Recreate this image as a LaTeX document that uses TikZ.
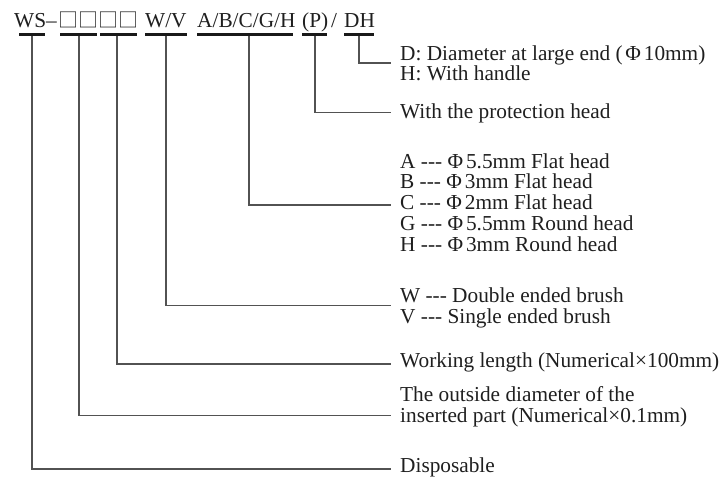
\documentclass[tikz,border=0pt]{standalone}
\usepackage{fontspec}
\setmainfont{Liberation Serif}
\newfontfamily\cjk{Noto Sans CJK SC}
\newcommand\phiD{Φ\kern3pt}
\newcommand\dsh{-{}-{}-}
\begin{document}
\begin{tikzpicture}[x=1pt,y=-1pt,
  txt/.style={anchor=base west, inner sep=0pt, font=\fontsize{21.3pt}{21pt}\selectfont, text=black!88},
  boxtxt/.style={anchor=base west, inner sep=0pt, font=\fontsize{20pt}{20pt}\selectfont\cjk, text=black!85},
  bar/.style={fill=black!90, inner sep=0pt, minimum height=2.6pt},
  conn/.style={draw=black!68, line width=1.1pt}]
\useasboundingbox (0,0) rectangle (723,477);
% top code
\node[txt] (tWS) at (14,27) {WS–};
\node[boxtxt] (tBox) at (58,27) {□□□□};
\node[txt] (tWV) at (145,27) {W/V};
\node[txt] (tABC) at (197,27) {A/B/C/G/H};
\node[txt] (tP) at (302,27) {(P)};
\node[txt] (tSl) at (331,27) {/};
\node[txt] (tDH) at (344,27) {DH};
% bars
\node[bar, minimum width=26pt] (bWS) at (32,34.5) {};
\node[bar, minimum width=37pt] (bB1) at (78.5,34.5) {};
\node[bar, minimum width=37pt] (bB2) at (118.5,34.5) {};
\node[bar, minimum width=42pt] (bWV) at (166,34.5) {};
\node[bar, minimum width=96pt] (bABC) at (245,34.5) {};
\node[bar, minimum width=25pt] (bP) at (314.5,34.5) {};
\node[bar, minimum width=30pt] (bDH) at (359,34.5) {};
% descriptions
\node[txt] (dD) at (400,60.5) {D: Diameter at large end (\kern2.5pt\phiD 10mm)};
\node[txt] (dH) at (400,80) {H: With handle};
\node[txt] (dP) at (400,118) {With the protection head};
\node[txt] (dA) at (400,168) {A \dsh{} \phiD 5.5mm Flat head};
\node[txt] (dB) at (400,188.75) {B \dsh{} \phiD 3mm Flat head};
\node[txt] (dC) at (400,209.5) {C \dsh{} \phiD 2mm Flat head};
\node[txt] (dG) at (400,230.25) {G \dsh{} \phiD 5.5mm Round head};
\node[txt] (dHH) at (400,251) {H \dsh{} \phiD 3mm Round head};
\node[txt] (dW) at (400,302.5) {W \dsh{} Double ended brush};
\node[txt] (dV) at (400,323.5) {V \dsh{} Single ended brush};
\node[txt] (dWL) at (400,367) {Working length (Numerical×100mm)};
\node[txt] (dO1) at (400,401.5) {The outside diameter of the};
\node[txt] (dO2) at (400,422.5) {inserted part (Numerical×0.1mm)};
\node[txt] (dDisp) at (400,472.5) {Disposable};
% connector ends
\coordinate (eDH) at (391,63);
\coordinate (eP) at (391,112.7);
\coordinate (eABC) at (391,205);
\coordinate (eWV) at (391,305.7);
\coordinate (eWL) at (391,364);
\coordinate (eOD) at (391,415.7);
\coordinate (eDisp) at (391,469);
% connectors
\draw[conn] (bWS.south) |- (eDisp);
\draw[conn] ([xshift=0.5pt]bB1.south) |- (eOD);
\draw[conn] ([xshift=-1.5pt]bB2.south) |- (eWL);
\draw[conn] (bWV.south) |- (eWV);
\draw[conn] ([xshift=4pt]bABC.south) |- (eABC);
\draw[conn] ([xshift=0.5pt]bP.south) |- (eP);
\draw[conn] (bDH.south) |- (eDH);
\end{tikzpicture}
\end{document}
